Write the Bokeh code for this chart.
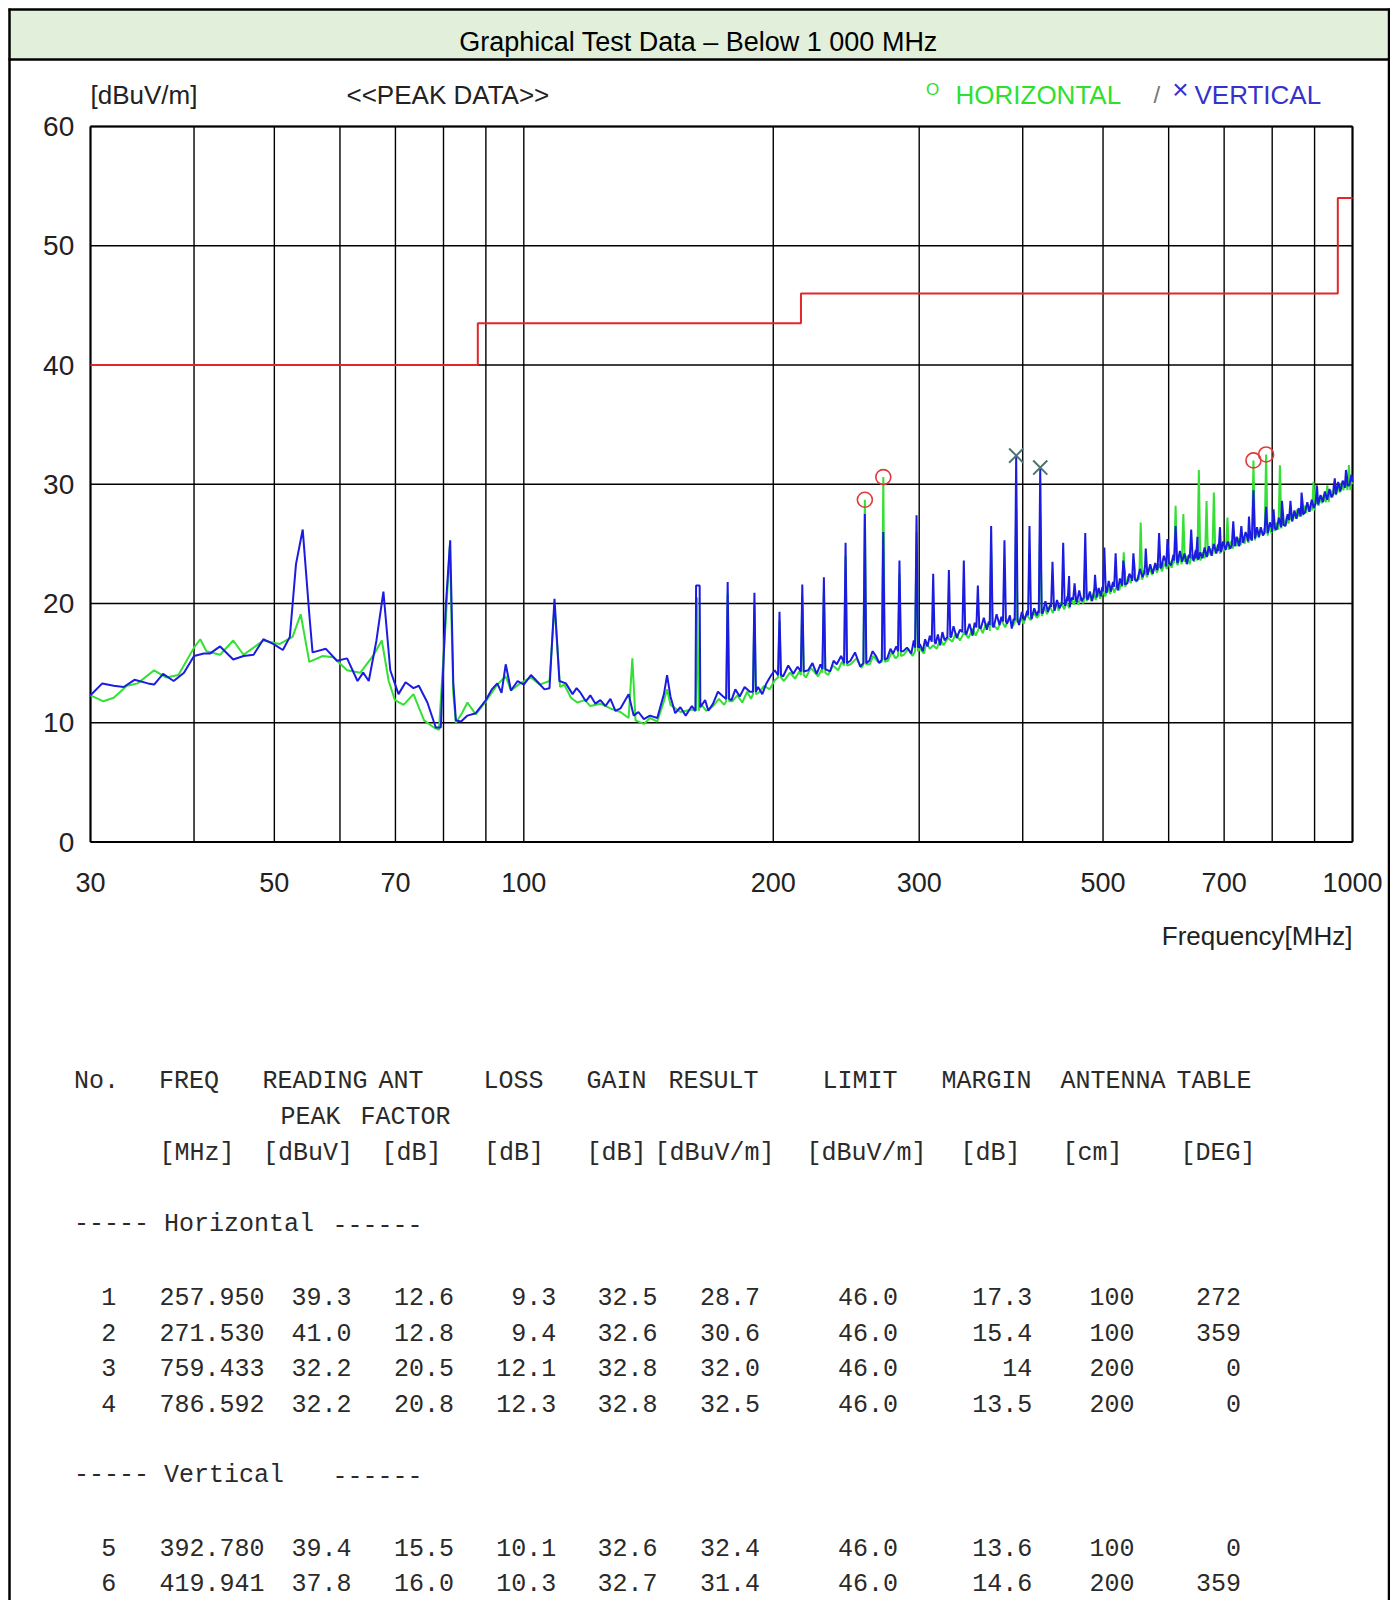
import math
from bokeh.plotting import figure
from bokeh.models import Range1d, LinearScale
from bokeh.embed import file_html
from bokeh.resources import INLINE
from bokeh.core.properties import value

# ---------------- data ----------------
# Vertical polarisation (blue) trace, 30-300 MHz
V_LOW_F = [30.0, 31.0, 32.0, 32.9, 33.9, 35.2, 35.8, 36.7, 37.8, 38.9,
           40.0, 41.1, 41.8, 43.0, 44.6, 45.9, 47.2, 48.5, 49.9, 51.2,
           52.2, 53.1, 54.1, 55.1, 55.6, 57.7, 59.5, 61.2, 63.0, 64.0,
           65.0, 66.4, 67.7, 69.0, 70.6, 72.0, 73.6, 74.7, 76.5, 78.3,
           79.4, 80.5, 81.5, 82.2, 82.8, 84.0, 85.5, 87.5, 90.0, 91.5,
           92.9, 94.0, 95.1, 96.5, 98.3, 100.0, 102.0, 104.0, 105.9, 107.4,
           108.9, 110.4, 112.4, 114.5, 115.8, 117.1, 118.8, 120.3, 122.0, 123.7,
           125.5, 127.2, 129.0, 130.8, 133.8, 135.7, 137.5, 139.6, 142.0, 144.9,
           147.6, 148.9, 150.3, 152.3, 154.5, 156.8, 159.5, 161.1, 161.4, 163.0,
           163.3, 165.5, 167.0, 169.2, 171.5, 174.0, 178.1, 180.0, 182.2, 184.7,
           187.4, 191.7, 194.0, 196.2, 198.5, 200.8, 205.6, 208.5, 211.4, 214.0,
           220.4, 223.0, 225.6, 228.0, 234.2, 236.5, 238.6, 241.5, 247.8, 251.0,
           254.7, 261.2, 263.5, 266.0, 268.5, 274.5, 277.0, 279.0, 281.5, 287.0,
           290.0, 293.5, 295.5, 300.6]
V_LOW_L = [12.3, 13.3, 13.1, 13.0, 13.6, 13.3, 13.2, 14.1, 13.5, 14.2,
           15.6, 15.8, 15.8, 16.4, 15.3, 15.6, 15.7, 17.0, 16.6, 16.1,
           17.2, 23.3, 26.2, 19.1, 15.9, 16.2, 15.2, 15.4, 13.5, 14.2,
           13.5, 16.9, 21.0, 14.4, 12.4, 13.4, 12.9, 13.1, 11.7, 9.6,
           9.6, 19.7, 25.3, 13.4, 10.2, 10.1, 10.6, 10.8, 11.9, 12.8,
           13.3, 12.5, 14.9, 12.7, 13.5, 13.2, 14.0, 13.4, 12.8, 12.9,
           20.4, 13.5, 13.3, 12.4, 12.9, 12.5, 11.8, 12.3, 11.6, 11.9,
           11.4, 12.0, 11.0, 11.2, 12.4, 10.6, 10.9, 10.3, 10.6, 10.4,
           12.4, 14.0, 12.2, 10.8, 11.3, 10.6, 11.4, 11.0, 21.5, 21.5,
           11.3, 11.9, 11.0, 11.6, 12.6, 12.2, 11.9, 12.8, 12.2, 13.0,
           12.6, 13.0, 12.4, 13.3, 13.9, 14.4, 13.9, 14.8, 14.1, 14.7,
           14.4, 15.0, 14.1, 14.9, 14.3, 15.2, 14.9, 15.6, 15.2, 15.9,
           14.7, 15.2, 16.0, 15.6, 15.0, 15.4, 16.2, 15.8, 16.4, 16.0,
           16.3, 15.8, 16.9, 16.6]
# Vertical trace, 300-1000 MHz
V_HIGH_F = [303, 305, 307, 309, 314, 316, 318, 320, 322, 328,
            330, 333, 336, 342, 345, 348, 350, 356, 359, 362,
            364, 369, 372, 375, 377, 383, 386, 388, 390, 396,
            399, 402, 405, 410, 413, 416, 418, 423, 426, 429,
            432, 437, 440, 443, 446, 450, 453, 456, 459, 465,
            468, 471, 474, 479, 482, 485, 488, 491, 494, 497,
            499, 505, 508, 511, 514, 521, 524, 527, 531, 535,
            538, 542, 546, 550, 554, 558, 562, 566, 570, 574,
            578, 581, 588, 592, 596, 600, 604, 608, 615, 619,
            623, 627, 631, 635, 643, 647, 651, 655, 659, 663,
            667, 671, 676, 680, 685, 689, 694, 698, 703, 707,
            712, 716, 721, 725, 730, 738, 743, 748, 752, 756,
            763, 767, 771, 775, 780, 784, 790, 795, 800, 805,
            810, 815, 820, 825, 830, 835, 846, 851, 856, 861,
            866, 871, 876, 882, 887, 893, 898, 904, 909, 915,
            921, 926, 932, 938, 943, 949, 955, 961, 967, 973,
            979, 985, 991, 997, 1000]
V_HIGH_L = [16.0, 17.0, 16.4, 17.3, 16.6, 17.4, 16.5, 17.6, 16.9, 17.2,
            18.1, 17.1, 17.8, 17.4, 18.3, 17.3, 18.4, 17.9, 18.8, 17.8,
            18.5, 18.0, 19.1, 18.2, 18.9, 18.3, 19.0, 17.9, 18.7, 18.2,
            19.3, 18.6, 19.4, 18.7, 19.6, 19.0, 19.4, 19.2, 20.2, 19.3,
            19.9, 19.4, 20.3, 19.6, 20.4, 19.8, 20.6, 19.7, 20.5, 20.1,
            21.1, 20.2, 20.6, 20.3, 21.0, 20.2, 21.2, 20.5, 21.3, 20.6,
            21.4, 20.9, 21.9, 21.0, 21.8, 21.1, 22.1, 21.5, 22.6, 21.7,
            22.5, 21.9, 22.8, 21.9, 22.9, 22.2, 23.3, 22.4, 23.3, 22.5,
            23.4, 22.8, 23.0, 24.0, 23.1, 24.0, 23.2, 24.1, 23.4, 24.4,
            23.5, 24.2, 23.3, 24.1, 23.6, 24.5, 23.7, 24.3, 23.8, 24.7,
            23.9, 24.8, 24.0, 25.0, 24.2, 25.0, 24.3, 25.2, 24.5, 25.2,
            24.6, 25.5, 24.8, 25.6, 24.8, 25.1, 26.0, 25.2, 26.0, 25.3,
            25.5, 26.4, 25.6, 26.4, 25.7, 26.5, 25.9, 26.8, 26.0, 26.9,
            26.2, 27.2, 26.4, 27.3, 26.5, 27.5, 26.9, 27.8, 27.1, 28.0,
            27.3, 28.3, 27.6, 28.5, 27.7, 28.7, 28.0, 29.0, 28.3, 29.1,
            28.5, 29.4, 28.7, 29.6, 28.9, 29.8, 29.2, 30.2, 29.4, 30.3,
            29.7, 30.6, 29.9, 30.8, 30.2]
# Vertical trace narrow spikes: frequency, peak level, foot level
V_SPIKE_F = [176.2, 189.8, 203.5, 216.8, 230.2, 244.5, 257.95, 271.5, 284.0, 297.8,
             311.9, 325.8, 339.6, 353.1, 366.4, 380.2, 392.78, 407.6, 419.94, 434.5,
             447.6, 462.0, 475.9, 501.8, 517.8, 584.3, 611.7, 638.8, 734.3, 759.43,
             786.6, 841.7, 455.0, 489.0, 529.0, 544.0, 563.0, 598.0, 650.0, 692.0,
             718.0, 750.0, 803.0, 822.0, 868.0, 906.0, 952.0, 982.0]
V_SPIKE_PK = [21.8, 20.9, 19.3, 21.6, 22.2, 25.1, 27.5, 26.0, 23.6, 27.4,
              22.5, 22.8, 23.6, 21.5, 26.5, 25.3, 32.4, 26.5, 31.4, 23.5,
              25.1, 21.7, 25.9, 24.7, 24.2, 25.9, 26.5, 26.2, 26.5, 29.5,
              28.1, 28.6, 22.3, 22.4, 23.6, 24.2, 24.6, 25.4, 25.6, 26.4,
              26.9, 27.3, 27.9, 28.6, 29.3, 29.9, 30.5, 31.2]
V_SPIKE_FT = [12.0, 12.6, 14.0, 14.3, 14.5, 15.0, 15.0, 15.3, 16.0, 16.3,
              16.8, 17.2, 17.6, 18.0, 18.2, 18.5, 18.6, 19.0, 19.2, 19.7,
              20.0, 20.3, 20.5, 21.0, 21.4, 23.0, 23.6, 23.8, 25.2, 25.5,
              26.0, 27.0, 20.2, 20.8, 21.6, 22.0, 22.6, 23.4, 23.8, 24.4,
              24.9, 25.5, 26.3, 26.6, 27.5, 28.4, 29.2, 29.9]

# Horizontal polarisation (green) trace, 30-300 MHz
H_LOW_F = [30.0, 31.1, 32.0, 33.2, 34.2, 35.8, 37.0, 38.3, 40.0, 40.7,
           41.4, 43.0, 44.6, 45.9, 47.2, 48.5, 50.7, 52.6, 53.8, 55.1,
           57.2, 58.9, 61.2, 63.5, 65.9, 67.4, 68.7, 69.9, 71.6, 73.6,
           75.8, 77.9, 79.0, 80.5, 81.4, 82.2, 82.8, 84.2, 85.5, 87.5,
           90.0, 92.9, 95.1, 96.5, 99.0, 102.0, 104.5, 107.4, 108.9, 110.6,
           111.9, 114.0, 116.0, 118.5, 120.3, 123.7, 127.2, 130.8, 133.8, 135.2,
           136.4, 139.6, 142.0, 144.9, 147.6, 148.9, 150.3, 154.5, 157.0, 159.5,
           163.5, 166.0, 169.2, 172.0, 174.5, 178.5, 181.0, 183.5, 186.0, 188.0,
           192.0, 195.0, 198.0, 201.0, 206.0, 209.5, 212.5, 215.0, 219.0, 222.0,
           226.5, 229.0, 233.0, 236.0, 239.5, 242.0, 248.0, 252.0, 255.5, 261.5,
           264.0, 267.5, 275.0, 278.0, 281.0, 287.5, 291.0, 294.5, 301.0]
H_LOW_L = [12.3, 11.8, 12.1, 13.1, 13.3, 14.4, 13.8, 14.0, 16.3, 17.0,
           16.0, 15.7, 16.9, 15.7, 16.3, 16.9, 16.6, 17.2, 19.1, 15.1,
           15.6, 15.5, 14.4, 14.2, 15.7, 16.9, 13.5, 11.9, 11.5, 12.4,
           10.2, 9.6, 9.4, 18.5, 24.8, 12.5, 10.0, 10.8, 11.7, 10.7,
           11.8, 13.2, 13.9, 12.7, 13.3, 13.8, 13.2, 13.5, 19.8, 13.0,
           13.2, 12.1, 11.7, 11.9, 11.4, 11.6, 11.2, 10.9, 10.4, 15.4,
           10.2, 9.9, 10.4, 10.1, 11.8, 12.8, 11.5, 10.9, 11.0, 11.1,
           11.6, 11.0, 11.4, 12.0, 11.5, 11.8, 12.3, 11.7, 12.6, 12.0,
           12.5, 13.1, 12.8, 13.6, 13.5, 14.2, 13.7, 14.3, 13.8, 14.6,
           13.9, 14.5, 14.0, 14.8, 14.4, 15.1, 14.9, 15.4, 14.6, 14.9,
           15.6, 15.1, 15.2, 15.9, 15.4, 15.7, 16.2, 15.6, 16.2]
# Horizontal trace, 300-1000 MHz
H_HIGH_F = [304, 306, 309, 312, 315, 318, 321, 325, 329, 332,
            336, 340, 344, 348, 351, 355, 358, 361, 365, 369,
            373, 377, 381, 385, 389, 394, 398, 401, 404, 409,
            412, 416, 422, 425, 428, 431, 435, 439, 442, 445,
            449, 452, 455, 458, 461, 464, 467, 470, 473, 478,
            481, 484, 487, 490, 493, 496, 500, 503, 507, 510,
            513, 516, 520, 523, 526, 533, 536, 540, 544, 548,
            552, 558, 561, 565, 569, 573, 577, 581, 585, 589,
            593, 597, 601, 605, 609, 615, 619, 622, 628, 632,
            636, 640, 644, 648, 656, 660, 663, 670, 674, 677,
            684, 688, 692, 696, 700, 704, 709, 713, 717, 721,
            725, 729, 733, 737, 741, 745, 749, 753, 756, 763,
            767, 771, 775, 779, 783, 790, 794, 798, 802, 806,
            810, 814, 821, 825, 829, 833, 837, 841, 845, 850,
            854, 858, 862, 866, 871, 875, 879, 884, 888, 893,
            901, 905, 910, 914, 918, 923, 927, 937, 941, 946,
            950, 955, 960, 965, 970, 975, 980, 985, 995, 1000]
H_HIGH_L = [15.8, 16.7, 16.2, 16.5, 16.2, 17.0, 16.5, 17.1, 16.8, 17.5,
            16.9, 17.6, 17.1, 17.9, 17.3, 18.1, 17.5, 18.3, 17.7, 18.2,
            17.8, 18.6, 18.0, 18.8, 18.1, 18.5, 18.8, 18.3, 19.1, 18.6,
            19.3, 18.8, 19.0, 19.7, 19.1, 19.8, 19.2, 20.0, 19.4, 20.1,
            19.5, 20.2, 19.6, 20.4, 19.9, 20.5, 19.9, 20.6, 20.0, 20.3,
            20.8, 20.2, 20.9, 20.3, 21.0, 20.4, 21.1, 20.6, 21.3, 20.8,
            21.5, 20.9, 21.6, 21.1, 21.8, 21.6, 22.3, 21.7, 22.5, 21.8,
            22.4, 22.1, 22.8, 22.2, 23.0, 22.4, 23.1, 22.6, 23.3, 22.7,
            23.4, 22.9, 23.6, 23.0, 23.7, 23.2, 23.9, 23.3, 23.5, 24.0,
            23.3, 24.1, 23.5, 24.2, 23.7, 24.3, 23.8, 24.1, 24.6, 24.0,
            24.4, 24.9, 24.2, 25.0, 24.4, 24.9, 24.5, 25.2, 24.6, 25.4,
            24.8, 25.5, 24.9, 25.6, 25.0, 25.7, 25.1, 25.9, 25.3, 25.4,
            26.1, 25.5, 26.2, 25.7, 26.3, 25.7, 26.5, 25.9, 26.7, 26.1,
            26.8, 26.2, 26.5, 27.1, 26.5, 27.3, 26.7, 27.5, 26.9, 27.7,
            27.1, 27.9, 27.3, 28.0, 27.4, 28.2, 27.6, 28.3, 27.7, 28.5,
            28.2, 28.8, 28.2, 29.0, 28.4, 29.1, 28.6, 28.9, 29.5, 28.9,
            29.7, 29.1, 29.9, 29.3, 30.1, 29.5, 30.3, 29.7, 30.4, 30.0]
H_SPIKE_F = [161.9, 176.2, 189.8, 203.5, 216.8, 230.2, 244.5, 257.95, 271.53, 284.0,
             297.8, 366.4, 392.78, 419.94, 475.9, 529.6, 555.2, 611.7, 625.0, 652.5,
             666.6, 680.3, 706.5, 759.43, 786.59, 817.4, 897.3, 932.3, 990.0]
H_SPIKE_PK = [20.5, 20.8, 19.8, 18.5, 20.6, 21.0, 24.0, 28.7, 30.6, 22.5,
              26.0, 24.5, 28.0, 27.5, 23.5, 24.3, 26.8, 28.2, 27.5, 31.2,
              28.6, 29.3, 27.2, 32.0, 32.5, 31.6, 30.2, 29.9, 31.6]
H_SPIKE_FT = [11.0, 11.8, 12.4, 13.8, 14.0, 14.2, 14.8, 14.9, 15.1, 15.6,
              16.0, 18.0, 18.4, 19.0, 20.2, 21.4, 22.0, 23.4, 23.6, 23.6,
              24.0, 24.2, 24.6, 25.3, 25.8, 26.3, 27.8, 28.5, 29.5]

# Limit line (step)
LIMIT_EDGES = [30, 88, 216, 960, 1000]
LIMIT_LEVELS = [40, 43.5, 46, 54]

# Marked peaks
H_MARK_F = [257.950, 271.530, 759.433, 786.592]
H_MARK_L = [28.7, 30.6, 32.0, 32.5]
V_MARK_F = [392.780, 419.941]
V_MARK_L = [32.4, 31.4]

# Axes
X_MIN, X_MAX = 30, 1000
Y_MIN, Y_MAX = 0, 60
Y_TICKS = [0, 10, 20, 30, 40, 50, 60]
X_GRID = [30, 40, 50, 60, 70, 80, 90, 100, 200, 300, 400, 500, 600, 700, 800, 900, 1000]
X_LABELS = [30, 50, 70, 100, 200, 300, 500, 700, 1000]

# Table
HEAD1 = ["No.", "FREQ", "READING", "ANT", "LOSS", "GAIN", "RESULT", "LIMIT", "MARGIN", "ANTENNA", "TABLE"]
HEAD2 = ["PEAK", "FACTOR"]
HEAD3 = ["[MHz]", "[dBuV]", "[dB]", "[dB]", "[dB]", "[dBuV/m]", "[dBuV/m]", "[dB]", "[cm]", "[DEG]"]
GROUPS = ["----- Horizontal", "----- Vertical"]
T_NO = ["1", "2", "3", "4", "5", "6"]
T_FREQ = ["257.950", "271.530", "759.433", "786.592", "392.780", "419.941"]
T_READ = ["39.3", "41.0", "32.2", "32.2", "39.4", "37.8"]
T_ANT = ["12.6", "12.8", "20.5", "20.8", "15.5", "16.0"]
T_LOSS = ["9.3", "9.4", "12.1", "12.3", "10.1", "10.3"]
T_GAIN = ["32.5", "32.6", "32.8", "32.8", "32.6", "32.7"]
T_RESULT = ["28.7", "30.6", "32.0", "32.5", "32.4", "31.4"]
T_LIMIT = ["46.0", "46.0", "46.0", "46.0", "46.0", "46.0"]
T_MARGIN = ["17.3", "15.4", "14", "13.5", "13.6", "14.6"]
T_ANTH = ["100", "100", "200", "200", "100", "200"]
T_TABLE = ["272", "359", "0", "0", "0", "359"]

# ---------------- helpers ----------------
def merge(bf, bl, sf, sp, sft):
    pts = list(zip(bf, bl))
    for f, pk, ft in zip(sf, sp, sft):
        pts += [(f * 0.996, ft), (f, pk), (f * 1.004, ft)]
    pts.sort()
    return [a for a, _ in pts], [b for _, b in pts]

assert len(V_LOW_F) == len(V_LOW_L)
assert len(V_HIGH_F) == len(V_HIGH_L)
assert len(H_LOW_F) == len(H_LOW_L)
assert len(H_HIGH_F) == len(H_HIGH_L)

vx, vy = merge(V_LOW_F + V_HIGH_F, V_LOW_L + V_HIGH_L, V_SPIKE_F, V_SPIKE_PK, V_SPIKE_FT)
hx, hy = merge(H_LOW_F + H_HIGH_F, H_LOW_L + H_HIGH_L, H_SPIKE_F, H_SPIKE_PK, H_SPIKE_FT)

# ---------------- page geometry (pixels) ----------------
WF, HF = 1390, 1600
FL, FR, FT, FB = 90, 1352, 126, 841.5          # chart frame
kx = (math.log10(X_MAX) - math.log10(X_MIN)) / (FR - FL)
x_start = 10 ** (math.log10(X_MIN) - FL * kx)
x_end = 10 ** (math.log10(X_MAX) + (WF - FR) * kx)
ky = (Y_MAX - Y_MIN) / (FB - FT)
y_end = Y_MAX + FT * ky
y_start = Y_MIN - (HF - FB) * ky

SANS = "Liberation Sans"
MONO = "Liberation Mono"

p = figure(width=WF, height=HF, x_axis_type="log",
           x_range=Range1d(x_start, x_end), y_range=Range1d(y_start, y_end),
           x_axis_location=None, y_axis_location=None, min_border=0,
           toolbar_location=None, output_backend="svg", title=None)
p.extra_x_ranges = {"px": Range1d(0, WF)}
p.extra_y_ranges = {"py": Range1d(HF, 0)}
p.extra_x_scales = {"px": LinearScale()}
p.extra_y_scales = {"py": LinearScale()}
p.grid.visible = False
p.outline_line_color = None
p.background_fill_color = "white"
p.border_fill_color = "white"

PX = dict(x_range_name="px", y_range_name="py")

# page frame and title bar
p.quad(left=[10], right=[1387], top=[10], bottom=[58], fill_color="#e2efda",
       line_color=None, **PX)
p.segment(x0=[9, 1388.5, 8, 8], y0=[8, 8, 9, 59], x1=[9, 1388.5, 1390, 1390],
          y1=[HF, HF, 9, 59], line_color="black", line_width=2.5, **PX)
p.text(x=[698], y=[41], text=["Graphical Test Data \u2013 Below 1 000 MHz"],
       text_font=value(SANS), text_font_size="27px", text_align="center",
       text_baseline="middle", text_color="black", **PX)

# header labels
p.text(x=[90, 346], y=[94, 94], text=["[dBuV/m]", "<<PEAK DATA>>"],
       text_font=value(SANS), text_font_size="26px", text_align="left",
       text_baseline="middle", text_color="#222222", **PX)
p.text(x=[932], y=[89], text=["O"], text_font=value(SANS), text_font_size="17px",
       text_align="center", text_baseline="middle", text_color="#33dd33", **PX)
p.text(x=[955], y=[94], text=["HORIZONTAL"], text_font=value(SANS), text_font_size="26px",
       text_align="left", text_baseline="middle", text_color="#2ee02e", **PX)
p.text(x=[1153], y=[94], text=["/"], text_font=value(SANS), text_font_size="24px",
       text_align="left", text_baseline="middle", text_color="#777777", **PX)
p.text(x=[1180], y=[89], text=["\u00d7"], text_font=value(SANS), text_font_size="28px",
       text_align="center", text_baseline="middle", text_color="#3333cc", **PX)
p.text(x=[1194], y=[94], text=["VERTICAL"], text_font=value(SANS), text_font_size="26px",
       text_align="left", text_baseline="middle", text_color="#3333cc", **PX)

# grid and frame (data space)
p.segment(x0=X_GRID, y0=[Y_MIN] * len(X_GRID), x1=X_GRID, y1=[Y_MAX] * len(X_GRID),
          line_color="black", line_width=1.4)
p.segment(x0=[X_MIN] * len(Y_TICKS), y0=Y_TICKS, x1=[X_MAX] * len(Y_TICKS), y1=Y_TICKS,
          line_color="black", line_width=1.4)
p.segment(x0=[X_MIN, X_MIN, X_MIN, X_MAX], y0=[Y_MIN, Y_MAX, Y_MIN, Y_MIN],
          x1=[X_MAX, X_MAX, X_MIN, X_MAX], y1=[Y_MIN, Y_MAX, Y_MAX, Y_MAX],
          line_color="black", line_width=2)

# tick labels
p.text(x=[73.7] * len(Y_TICKS), y=Y_TICKS, text=[str(t) for t in Y_TICKS],
       text_font=value(SANS), text_font_size="28px", text_align="right",
       text_baseline="middle", text_color="#222222", x_range_name="px")
p.text(x=X_LABELS, y=[882] * len(X_LABELS), text=[str(t) for t in X_LABELS],
       text_font=value(SANS), text_font_size="27px", text_align="center",
       text_baseline="middle", text_color="#222222", y_range_name="py")
p.text(x=[1352], y=[935], text=["Frequency[MHz]"], text_font=value(SANS),
       text_font_size="26px", text_align="right", text_baseline="middle",
       text_color="#222222", **PX)

# traces
p.line(hx, hy, line_color="#33e033", line_width=2.0)
p.line(vx, vy, line_color="#1c1ce0", line_width=2.0)
p.step(LIMIT_EDGES, LIMIT_LEVELS + [LIMIT_LEVELS[-1]], mode="after",
       line_color="#e3262b", line_width=2)
p.scatter(H_MARK_F, H_MARK_L, marker="circle", size=15, fill_color=None,
          line_color="#e23a3a", line_width=1.6)
p.scatter(V_MARK_F, V_MARK_L, marker="x", size=20, line_color="#4f7373", line_width=2)

# ---------------- table ----------------
H1_X = [73.5, 158.5, 262, 378, 483, 586, 668, 822, 941, 1060, 1176]
H2_X = [280, 360]
H3_X = [159, 262.5, 381, 483.5, 586, 654, 806, 960, 1062, 1180]
COL_R = [115.7, 264, 351, 453.4, 555.8, 657, 759.4, 897.6, 1031.7, 1134, 1240.5]
ROW_Y = [1296, 1332, 1367, 1403, 1546.5, 1582]
GROUP_Y = [1224, 1475]

tfont = dict(text_font=value(MONO), text_font_size="25px", text_baseline="middle",
             text_color="#2a2a2a", **PX)
p.text(x=H1_X, y=[1081] * len(HEAD1), text=HEAD1, text_align="left", **tfont)
p.text(x=H2_X, y=[1117] * len(HEAD2), text=HEAD2, text_align="left", **tfont)
p.text(x=H3_X, y=[1152.5] * len(HEAD3), text=HEAD3, text_align="left", **tfont)
p.text(x=[73.5, 73.5], y=GROUP_Y, text=GROUPS, text_align="left", **tfont)
p.text(x=[332, 332], y=GROUP_Y, text=["------", "------"], text_align="left", **tfont)
cols = [T_NO, T_FREQ, T_READ, T_ANT, T_LOSS, T_GAIN, T_RESULT, T_LIMIT, T_MARGIN, T_ANTH, T_TABLE]
for cx, colvals in zip(COL_R, cols):
    p.text(x=[cx] * len(colvals), y=ROW_Y, text=colvals, text_align="right", **tfont)

open("out.html", "w").write(file_html(p, INLINE))
